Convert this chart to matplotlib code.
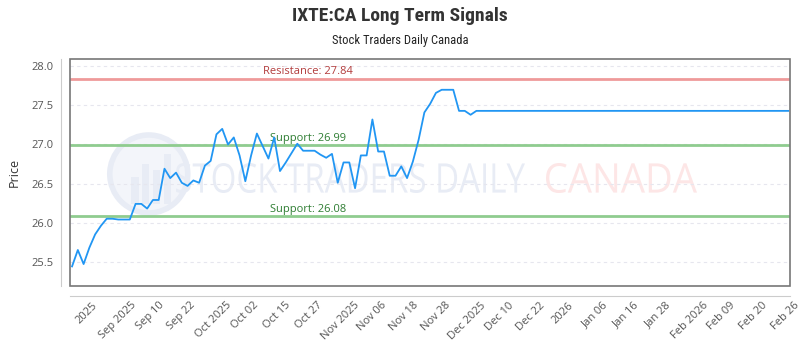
import matplotlib
matplotlib.use("Agg")
import matplotlib.pyplot as plt
import matplotlib.transforms as mtransforms
import numpy as np
from matplotlib.patches import Ellipse, Rectangle, PathPatch
from matplotlib.textpath import TextPath
from matplotlib.font_manager import FontProperties

plt.rcParams['font.family'] = ['Open Sans', 'DejaVu Sans']

# observed closes, then the flat projection
history = [25.44, 25.65, 25.47, 25.68, 25.85, 25.96, 26.05, 26.05, 26.04, 26.04,
           26.04, 26.24, 26.24, 26.18, 26.29, 26.29, 26.69, 26.57, 26.64, 26.51,
           26.47, 26.54, 26.51, 26.73, 26.79, 27.13, 27.20, 27.00, 27.09, 26.86,
           26.53, 26.86, 27.14, 26.98, 26.82, 27.09, 26.66, 26.77, 26.89, 27.01,
           26.92, 26.92, 26.92, 26.87, 26.83, 26.88, 26.51, 26.77, 26.77, 26.44,
           26.86, 26.86, 27.32, 26.91, 26.91, 26.60, 26.60, 26.72, 26.57, 26.78,
           27.06, 27.41, 27.52, 27.66, 27.70, 27.70, 27.70, 27.43, 27.43, 27.38,
           27.43]
projection = [27.43] * 54
prices = history + projection

tick_labels = ["2025", "Sep 2025", "Sep 10", "Sep 22", "Oct 2025", "Oct 02", "Oct 15",
               "Oct 27", "Nov 2025", "Nov 06", "Nov 18", "Nov 28", "Dec 2025", "Dec 10",
               "Dec 22", "2026", "Jan 06", "Jan 16", "Jan 28", "Feb 2026", "Feb 09",
               "Feb 20", "Feb 26"]

resistance = 27.84
supports = [26.99, 26.08]


def watermark(ax, text, x0, x1, y0, y1, color):
    # squeeze the word into a pixel box so it looks condensed
    tp = TextPath((0, 0), text, size=1, prop=FontProperties(family='Open Sans'))
    bb = tp.get_extents()
    tr = (mtransforms.Affine2D()
          .translate(-bb.x0, -bb.y0)
          .scale((x1 - x0) / bb.width, (y1 - y0) / bb.height)
          .translate(x0, y0))
    ax.add_patch(PathPatch(tp, transform=tr, facecolor=color, edgecolor='none', zorder=0))


fig = plt.figure(figsize=(8, 3.5), dpi=100)
ax = fig.add_axes([0.0879, 0.183, 0.8996, 0.6476])

x = np.arange(len(prices))
ax.set_xlim(-0.3, len(prices) - 1 + 0.3)
ax.set_ylim(25.19, 28.09)

# watermark (pixel coords, origin bottom-left)
wm_col = '#e8ecf5'
ax.add_patch(Ellipse((0.109, 0.494), 78 / 719.7, 78 / 226.7, transform=ax.transAxes,
                     facecolor='#f3f5fa', edgecolor=wm_col, lw=4, zorder=0))
for bx, bh in zip([0.085, 0.1, 0.115, 0.13], [0.12, 0.18, 0.15, 0.22]):
    ax.add_patch(Rectangle((bx, 0.36), 0.01, bh, transform=ax.transAxes,
                           facecolor=wm_col, edgecolor='none', zorder=0))
watermark(ax, "STOCK TRADERS DAILY", 176, 525, 157, 187, wm_col)
watermark(ax, "CANADA", 546, 697, 157, 187, '#fde6e6')

ax.grid(axis='y', color='#e6e6ee', linestyle=(0, (3, 3)), lw=0.8)
ax.set_axisbelow(True)

ax.axhline(resistance, color='#ef9a9a', lw=2, zorder=2)
ax.text(0.33, resistance + 0.02, f"Resistance: {resistance:.2f}", transform=ax.get_yaxis_transform(),
        color='#b23b3b', fontsize=8, ha='center', va='bottom')
for s in supports:
    ax.axhline(s, color='#8fcc8f', lw=2, zorder=2)
    ax.text(0.33, s + 0.02, f"Support: {s:.2f}", transform=ax.get_yaxis_transform(),
            color='#2e7d32', fontsize=8, ha='center', va='bottom')

ax.plot(x, prices, color='#2196f3', lw=1.3, zorder=3)

yt = np.arange(25.5, 28.01, 0.5)
ax.set_yticks(yt)
ax.set_yticklabels([f"{v:.1f}" for v in yt])
ax.set_xticks(2.5 + 5.5 * np.arange(len(tick_labels)))
ax.set_xticklabels(tick_labels)
ax.tick_params(axis='both', length=0, labelsize=8, colors='#555555')
ax.tick_params(axis='y', pad=5)
ax.tick_params(axis='x', pad=3, labelrotation=45)
for lab in ax.get_xticklabels():
    lab.set_horizontalalignment('right')
    lab.set_rotation_mode('anchor')
ax.set_ylabel("Price", fontsize=9, color='#333333', labelpad=8)

for side in ['top', 'right']:
    ax.spines[side].set_visible(False)
for side in ['left', 'bottom']:
    ax.spines[side].set_position(('outward', 7))
    ax.spines[side].set_color('#cccccc')
ax.add_patch(Rectangle((0, 0), 1, 1, transform=ax.transAxes, fill=False,
                       edgecolor='#777777', lw=1.2, clip_on=False, zorder=5))

fig.text(0.5, 0.955, "IXTE:CA Long Term Signals", ha='center', va='center',
         fontsize=14, fontweight='bold', color='#333333',
         family=['Roboto Condensed', 'Open Sans'])
fig.text(0.5, 0.885, "Stock Traders Daily Canada", ha='center', va='center',
         fontsize=9, color='#222222', family=['Roboto Condensed', 'Open Sans'])

fig.savefig("out.png", dpi=100)
